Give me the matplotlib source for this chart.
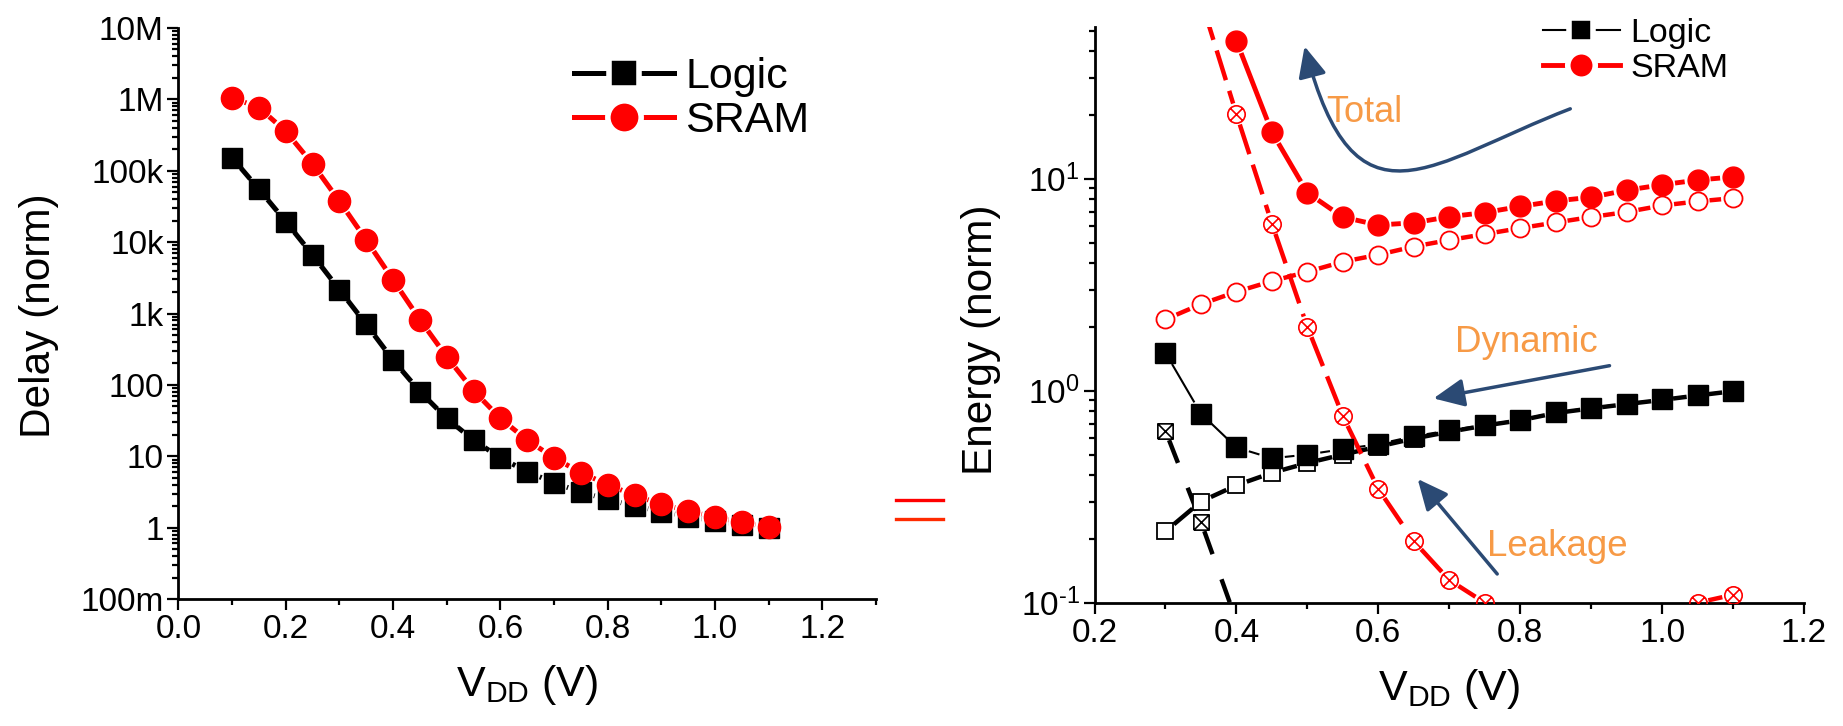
import numpy as np
import matplotlib
matplotlib.use('Agg')
import matplotlib.pyplot as plt
from matplotlib.path import Path
from matplotlib.patches import FancyArrowPatch, ArrowStyle
from matplotlib.lines import Line2D
from matplotlib.ticker import (FixedLocator, FixedFormatter, MultipleLocator,
                               LogLocator, NullFormatter, FuncFormatter)

plt.rcParams['font.family'] = ['Liberation Sans', 'DejaVu Sans']
plt.rcParams['mathtext.fontset'] = 'custom'
plt.rcParams['mathtext.rm'] = 'Liberation Sans'
plt.rcParams['mathtext.it'] = 'Liberation Sans:italic'
plt.rcParams['mathtext.bf'] = 'Liberation Sans:bold'
plt.rcParams['axes.unicode_minus'] = False

#Delay panel data (normalized delay vs VDD)
vdd_delay = [0.1, 0.15, 0.2, 0.25, 0.3, 0.35, 0.4, 0.45, 0.5, 0.55, 0.6,
             0.65, 0.7, 0.75, 0.8, 0.85, 0.9, 0.95, 1.0, 1.05, 1.1]
delay_logic = [1.52e5, 5.5e4, 1.94e4, 6.6e3, 2.15e3, 703, 222, 80.5, 33.9, 16.8, 9.5,
               6.07, 4.25, 3.15, 2.48, 2.01, 1.68, 1.43, 1.23, 1.09, 1.0]
delay_sram = [1.06e6, 7.65e5, 3.57e5, 1.24e5, 3.74e4, 1.07e4, 2.95e3, 817, 247, 83, 33.9,
              16.8, 9.5, 5.9, 4.0, 2.83, 2.13, 1.71, 1.40, 1.19, 1.01]
delay_ticks = [0.1, 1, 10, 100, 1e3, 1e4, 1e5, 1e6, 1e7]
delay_ticklabels = ['100m', '1', '10', '100', '1k', '10k', '100k', '1M', '10M']

#Energy panel data (normalized energy vs VDD)
vdd_logic = [0.3, 0.35, 0.4, 0.45, 0.5, 0.55, 0.6, 0.65, 0.7, 0.75, 0.8,
             0.85, 0.9, 0.95, 1.0, 1.05, 1.1]
logic_total = [1.51, 0.78, 0.54, 0.48, 0.50, 0.53, 0.56, 0.61, 0.65, 0.69, 0.73,
               0.79, 0.83, 0.87, 0.91, 0.955, 1.0]
logic_dynamic = [0.217, 0.30, 0.358, 0.41, 0.456, 0.50, 0.545, 0.595, 0.64, 0.685, 0.725,
                 0.785, 0.825, 0.865, 0.905, 0.95, 0.995]
vdd_logic_leak = [0.3, 0.35, 0.4]
logic_leakage = [0.647, 0.241, 0.082]

vdd_sram_total = [0.4, 0.45, 0.5, 0.55, 0.6, 0.65, 0.7, 0.75, 0.8, 0.85, 0.9,
                  0.95, 1.0, 1.05, 1.1]
sram_total = [44.7, 16.6, 8.6, 6.59, 6.05, 6.2, 6.62, 6.93, 7.4, 7.86, 8.18,
              8.83, 9.37, 9.86, 10.2]
vdd_sram_dyn = [0.3, 0.35, 0.4, 0.45, 0.5, 0.55, 0.6, 0.65, 0.7, 0.75, 0.8,
                0.85, 0.9, 0.95, 1.0, 1.05, 1.1]
sram_dynamic = [2.17, 2.56, 2.93, 3.29, 3.64, 4.06, 4.38, 4.79, 5.14, 5.48, 5.85,
                6.22, 6.60, 6.97, 7.48, 7.82, 8.1]
vdd_sram_leak = [0.35, 0.4, 0.45, 0.5, 0.55, 0.6, 0.65, 0.7, 0.75, 0.8, 0.85,
                 0.9, 0.95, 1.0, 1.05, 1.1]
sram_leakage = [70, 20.2, 6.15, 2.0, 0.76, 0.344, 0.195, 0.128, 0.1, 0.085, 0.08,
                0.078, 0.08, 0.088, 0.1, 0.109]

RED = '#ff0000'
NAVY = '#2b4a74'
ORANGE = '#f79a46'

#marker shapes with a cross inside
c = np.sqrt(0.5)
circle_x = Path.make_compound_path(Path.unit_circle(),
                                   Path([[-c, -c], [c, c]]), Path([[-c, c], [c, -c]]))
square_x = Path.make_compound_path(Path([[-1, -1], [1, -1], [1, 1], [-1, 1], [-1, -1]]),
                                   Path([[-1, -1], [1, 1]]), Path([[-1, 1], [1, -1]]))


#Origin-style connecting line: each segment stops short of the markers by gap pixels
def gapped_line(ax, x, y, gap, **kw):
    pts = ax.transData.transform(np.column_stack([x, y]))
    inv = ax.transData.inverted()
    for p0, p1 in zip(pts[:-1], pts[1:]):
        d = p1 - p0
        L = np.hypot(d[0], d[1])
        if L <= 2 * gap:
            continue
        u = d / L
        seg = inv.transform(np.array([p0 + u * gap, p1 - u * gap]))
        ax.plot(seg[:, 0], seg[:, 1], solid_capstyle='butt', dash_capstyle='butt', **kw)


#10^n labels with a short hyphen for the negative exponent
def pow10_label(v, pos):
    e = int(round(np.log10(v)))
    return r'$\mathdefault{10^{%s}}$' % str(e).replace('-', '\u2010')


fig = plt.figure(figsize=(18.43, 7.26), dpi=100)
ax1 = fig.add_axes([0.09685, 0.17493, 0.37846, 0.78650])
ax2 = fig.add_axes([0.59387, 0.16983, 0.38497, 0.79298])

for ax in (ax1, ax2):
    ax.spines['top'].set_visible(False)
    ax.spines['right'].set_visible(False)
    ax.spines['left'].set_linewidth(2)
    ax.spines['bottom'].set_linewidth(2)
    ax.tick_params(which='major', length=7.7, width=1.6, labelsize=24, pad=3)
    ax.tick_params(which='minor', length=4.3, width=1.6)
    ax.set_yscale('log')
    ax.xaxis.set_major_locator(MultipleLocator(0.2))
    ax.xaxis.set_minor_locator(MultipleLocator(0.1))

ax1.set_xlim(0, 1.3)
ax1.set_ylim(0.1, 1e7)
ax2.set_xlim(0.2, 1.2)
ax2.set_ylim(0.1, 52)

#left panel: delay
gapped_line(ax1, vdd_delay, delay_logic, 13.5, color='black', lw=3.6)
gapped_line(ax1, vdd_delay, delay_sram, 13.5, color=RED, lw=3.6)
ax1.plot(vdd_delay, delay_logic, 's', color='black', ms=14, zorder=3)
ax1.plot(vdd_delay, delay_sram, 'o', color=RED, ms=16, zorder=3)
ax1.yaxis.set_major_locator(FixedLocator(delay_ticks))
ax1.yaxis.set_major_formatter(FixedFormatter(delay_ticklabels))
ax1.yaxis.set_minor_locator(LogLocator(base=10, subs=np.arange(2, 10), numticks=20))
ax1.yaxis.set_minor_formatter(NullFormatter())
ax1.set_xlabel(r'V$_{\mathrm{DD}}$ (V)', fontsize=31, labelpad=13)
ax1.set_ylabel('Delay (norm)', fontsize=30.5)
ax1.yaxis.set_label_coords(-0.171, 0.497)
h_logic1 = Line2D([], [], color='black', lw=3.6, marker='s', ms=21.4, mfc='black',
                  mec='white', mew=4)
h_sram1 = Line2D([], [], color=RED, lw=3.6, marker='o', ms=24, mfc=RED,
                 mec='white', mew=4)
ax1.legend([h_logic1, h_sram1], ['Logic', 'SRAM'], loc='upper left',
           bbox_to_anchor=(0.567, 0.949), frameon=False, fontsize=31,
           borderpad=0, borderaxespad=0, handlelength=2.33, handletextpad=0.26,
           labelspacing=0.1)

#right panel: energy
gapped_line(ax2, vdd_logic, logic_dynamic, 11, color='black', lw=3.2)
gapped_line(ax2, vdd_logic_leak, logic_leakage, 10, color='black', lw=3.2, dashes=(5.5, 6))
gapped_line(ax2, vdd_logic, logic_total, 13, color='black', lw=1.5)
gapped_line(ax2, vdd_sram_dyn, sram_dynamic, 12, color=RED, lw=3.2)
gapped_line(ax2, vdd_sram_leak, sram_leakage, 11, color=RED, lw=3.2, dashes=(7, 2.5))
gapped_line(ax2, vdd_sram_total, sram_total, 13, color=RED, lw=3.5)
ax2.plot(vdd_logic, logic_dynamic, 's', ms=11.5, mfc='white', mec='black', mew=1.3, zorder=3)
ax2.plot(vdd_logic_leak, logic_leakage, ls='none', marker=square_x, ms=11, mfc='white',
         mec='black', mew=1.2, zorder=3)
ax2.plot(vdd_logic, logic_total, 's', color='black', ms=14, zorder=3)
ax2.plot(vdd_sram_dyn, sram_dynamic, 'o', ms=13, mfc='white', mec=RED, mew=1.3, zorder=3)
ax2.plot(vdd_sram_leak, sram_leakage, ls='none', marker=circle_x, ms=12.5, mfc='none',
         mec=RED, mew=1.2, zorder=3)
ax2.plot(vdd_sram_total, sram_total, 'o', color=RED, ms=15, zorder=3)
ax2.yaxis.set_major_locator(LogLocator(base=10, numticks=10))
ax2.yaxis.set_major_formatter(FuncFormatter(pow10_label))
ax2.yaxis.set_minor_locator(LogLocator(base=10, subs=np.arange(2, 10), numticks=20))
ax2.yaxis.set_minor_formatter(NullFormatter())
ax2.set_xlabel(r'V$_{\mathrm{DD}}$ (V)', fontsize=31, labelpad=13)
ax2.set_ylabel('Energy (norm)', fontsize=30.5)
ax2.yaxis.set_label_coords(-0.132, 0.456)
h_logic2 = Line2D([], [], color='black', lw=1.5, marker='s', ms=17.2, mfc='black',
                  mec='white', mew=4)
h_sram2 = Line2D([], [], color=RED, lw=3.5, marker='o', ms=19.8, mfc=RED,
                 mec='white', mew=4)
ax2.legend([h_logic2, h_sram2], ['Logic', 'SRAM'], loc='upper left',
           bbox_to_anchor=(0.6317, 1.016), frameon=False, fontsize=24.5,
           borderpad=0, borderaxespad=0, handlelength=2.27, handletextpad=0.3,
           labelspacing=0.11)

#annotations
head = ArrowStyle('-|>', head_length=18.7, head_width=8.6)
total_path = Path([(0.6706, 0.8579), (0.4731, 0.7645), (0.3672, 0.6302), (0.2961, 0.9665)],
                  [Path.MOVETO, Path.CURVE4, Path.CURVE4, Path.CURVE4])
ax2.add_patch(FancyArrowPatch(path=total_path, arrowstyle=head, color=NAVY, lw=2.5,
                              transform=ax2.transAxes, clip_on=False))
ax2.add_patch(FancyArrowPatch((0.7259, 0.4117), (0.4778, 0.3549), arrowstyle=head,
                              color=NAVY, lw=2.5, transform=ax2.transAxes,
                              shrinkA=0, shrinkB=0))
ax2.add_patch(FancyArrowPatch((0.5676, 0.0499), (0.4555, 0.2149), arrowstyle=head,
                              color=NAVY, lw=2.5, transform=ax2.transAxes,
                              shrinkA=0, shrinkB=0))
ax2.text(0.3796, 0.8515, 'Total', color=ORANGE, fontsize=26, ha='center', va='center',
         transform=ax2.transAxes)
ax2.text(0.6093, 0.4518, 'Dynamic', color=ORANGE, fontsize=26.5, ha='center', va='center',
         transform=ax2.transAxes)
ax2.text(0.6519, 0.098, 'Leakage', color=ORANGE, fontsize=26.5, ha='center', va='center',
         transform=ax2.transAxes)

#red equals sign between the panels
fig.add_artist(Line2D([0.486, 0.5118], [0.3109, 0.3109], color='#ff0000', lw=2.4,
                      transform=fig.transFigure))
fig.add_artist(Line2D([0.486, 0.5118], [0.2847, 0.2847], color='#ff2a00', lw=2.4,
                      transform=fig.transFigure))

fig.savefig('out.png', dpi=100)
